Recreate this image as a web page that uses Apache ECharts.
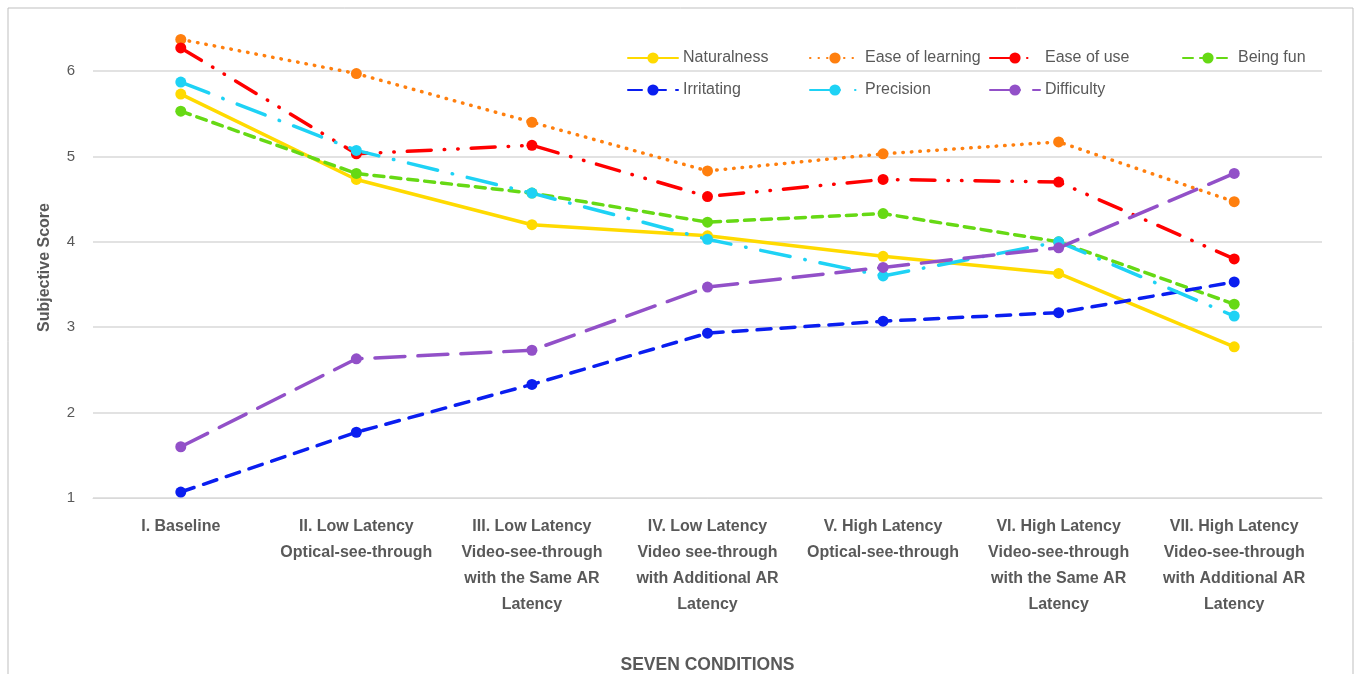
<!DOCTYPE html>
<html>
<head>
<meta charset="utf-8">
<script src="https://cdn.jsdelivr.net/npm/echarts@6/dist/echarts.min.js"></script>
<style>
  html, body { margin: 0; padding: 0; background: #fff; }
  #chart { width: 1356px; height: 674px; }
</style>
</head>
<body>
<div id="chart"></div>
<script>
// categories (x axis)
const conditions = [
  "I. Baseline",
  "II. Low Latency\nOptical-see-through",
  "III. Low Latency\nVideo-see-through\nwith the Same AR\nLatency",
  "IV. Low Latency\nVideo see-through\nwith Additional AR\nLatency",
  "V. High Latency\nOptical-see-through",
  "VI. High Latency\nVideo-see-through\nwith the Same AR\nLatency",
  "VII. High Latency\nVideo-see-through\nwith Additional AR\nLatency"
];

// subjective scores per measure
const naturalness = [5.73, 4.73, 4.2, 4.07, 3.83, 3.63, 2.77];
const easeOfLearning = [6.37, 5.97, 5.4, 4.83, 5.03, 5.17, 4.47];
const easeOfUse = [6.27, 5.03, 5.13, 4.53, 4.73, 4.7, 3.8];
const beingFun = [5.53, 4.8, 4.57, 4.23, 4.33, 4.0, 3.27];
const irritating = [1.07, 1.77, 2.33, 2.93, 3.07, 3.17, 3.53];
const precision = [5.87, 5.07, 4.57, 4.03, 3.6, 4.0, 3.13];
const difficulty = [1.6, 2.63, 2.73, 3.47, 3.7, 3.93, 4.8];

const textColor = "#595959";
const font = "'Liberation Sans', Arial, sans-serif";

function makeSeries(name, data, color, dash) {
  return {
    name,
    type: "line",
    data,
    clip: false,
    symbol: "circle",
    symbolSize: 11,
    itemStyle: { color },
    lineStyle: { color, width: 3.5, type: dash, cap: "round" },
    emphasis: { disabled: true },
  };
}

// one legend per column, like the excel layout
function legendCol(left, names) {
  return {
    orient: "vertical",
    left,
    top: 45,
    itemWidth: 50,
    itemHeight: 14,
    itemGap: 16,
    data: names,
    textStyle: { color: textColor, fontSize: 16, fontFamily: font },
  };
}

const chart = echarts.init(document.getElementById("chart"));
chart.setOption({
  backgroundColor: "#fff",
  animation: false,
  graphic: [
    {
      type: "rect",
      shape: { x: 8, y: 8, width: 1345, height: 700 },
      style: { fill: "none", stroke: "#BFBFBF", lineWidth: 1 },
      silent: true,
    },
  ],
  legend: [
    legendCol(622, ["Naturalness", "Irritating"]),
    legendCol(804, ["Ease of learning", "Precision"]),
    legendCol(984, ["Ease of use", "Difficulty"]),
    legendCol(1177, ["Being fun"]),
  ],
  grid: { left: 93, right: 34, top: 71, bottom: 176, outerBoundsMode: "none" },
  xAxis: {
    type: "category",
    data: conditions,
    boundaryGap: true,
    name: "SEVEN CONDITIONS",
    nameLocation: "middle",
    nameGap: 158,
    nameTextStyle: { color: textColor, fontSize: 17.5, fontWeight: "bold", fontFamily: font },
    axisLine: { show: true, lineStyle: { color: "#D9D9D9" } },
    axisTick: { show: false },
    axisLabel: {
      interval: 0,
      color: textColor,
      fontSize: 16,
      fontWeight: "bold",
      fontFamily: font,
      lineHeight: 26,
      margin: 16,
      align: "center",
      verticalAlign: "top",
    },
  },
  yAxis: {
    type: "value",
    min: 1,
    max: 6,
    interval: 1,
    name: "Subjective Score",
    nameLocation: "middle",
    nameGap: 40,
    nameTextStyle: {
      color: textColor,
      fontSize: 16,
      fontWeight: "bold",
      fontFamily: font,
      padding: [0, 0, 0, 34],
    },
    axisLine: { show: false },
    axisTick: { show: false },
    axisLabel: { color: textColor, fontSize: 15, fontFamily: font, margin: 18 },
    splitLine: { lineStyle: { color: "#D9D9D9", width: 1.5 } },
  },
  series: [
    makeSeries("Naturalness", naturalness, "#FFDA00", "solid"),
    makeSeries("Ease of learning", easeOfLearning, "#FF7F0E", [0.5, 8]),
    makeSeries("Ease of use", easeOfUse, "#FF0000", [24, 13, 0.5, 13, 0.5, 13]),
    makeSeries("Being fun", beingFun, "#66D914", [10, 7]),
    makeSeries("Irritating", irritating, "#0A1EF0", [14, 10]),
    makeSeries("Precision", precision, "#1ED2F5", [30, 15, 0.5, 15]),
    makeSeries("Difficulty", difficulty, "#9250C8", [30, 13]),
  ],
});
</script>
</body>
</html>
